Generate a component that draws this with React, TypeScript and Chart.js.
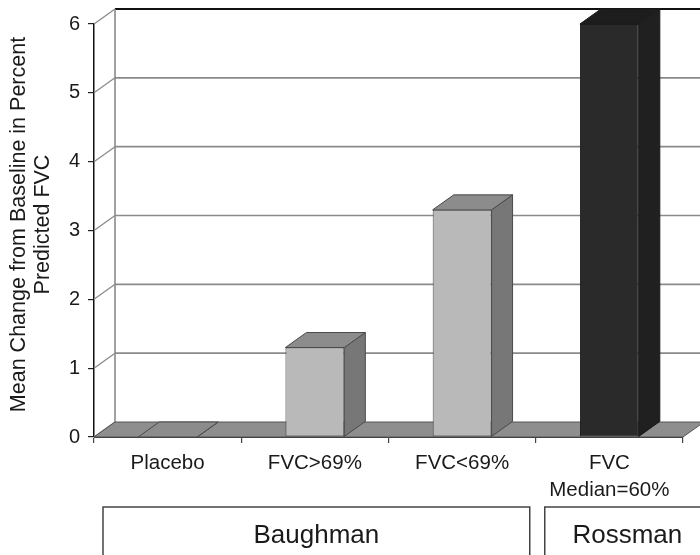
import React, { useEffect, useRef } from "react";
import { Chart, registerables } from "chart.js";

Chart.register(...registerables);

// ---- data ----
const categories: (string | string[])[] = ["Placebo", "FVC>69%", "FVC<69%", ["FVC", "Median=60%"]];
const values: number[] = [0, 1.3, 3.3, 6.0];
const yMin = 0;
const yMax = 6;
const yStep = 1;
const groups: string[] = ["Baughman", "Rossman"];
const groupSpans: number[] = [3, 1];
const yTitle: string[] = ["Mean Change from Baseline in Percent", "Predicted FVC"];

// ---- style ----
const FRONT = ["#b9b9b9", "#b9b9b9", "#b9b9b9", "#2a2a2a"];
const TOP = ["#8c8c8c", "#8c8c8c", "#8c8c8c", "#1d1d1d"];
const SIDE = ["#777777", "#777777", "#777777", "#202020"];
const EDGE = ["#4a4a4a", "#4a4a4a", "#4a4a4a", "#1a1a1a"];
const DX = 21;
const DY = -15;
const FONT = "'Liberation Sans', Arial, sans-serif";
const TEXT = "#1a1a1a";

const threeD = {
  id: "threeD",
  beforeDatasetsDraw(chart: any) {
    const { ctx, chartArea, scales } = chart;
    const y = scales.y;
    const { left, right, bottom } = chartArea;
    const W = chart.width;
    ctx.save();
    for (let v = yMin; v <= yMax; v += yStep) {
      const yf = y.getPixelForValue(v);
      const yb = yf + DY;
      if (v > yMin) {
        ctx.strokeStyle = v === yMax ? "#111" : "#8a8a8a";
        ctx.lineWidth = v === yMax ? 2 : 1.6;
        ctx.beginPath();
        ctx.moveTo(left + DX, yb);
        ctx.lineTo(W + 5, yb);
        ctx.stroke();
      }
      ctx.strokeStyle = "#8a8a8a";
      ctx.lineWidth = 1.3;
      ctx.beginPath();
      ctx.moveTo(left, yf);
      ctx.lineTo(left + DX, yb);
      ctx.stroke();
    }
    ctx.strokeStyle = "#8a8a8a";
    ctx.lineWidth = 1.6;
    ctx.beginPath();
    ctx.moveTo(left + DX, y.getPixelForValue(yMax) + DY);
    ctx.lineTo(left + DX, bottom + DY);
    ctx.stroke();
    // floor
    ctx.fillStyle = "#8e8e8e";
    ctx.strokeStyle = "#555";
    ctx.lineWidth = 1;
    ctx.beginPath();
    ctx.moveTo(left, bottom);
    ctx.lineTo(right, bottom);
    ctx.lineTo(right + DX, bottom + DY);
    ctx.lineTo(left + DX, bottom + DY);
    ctx.closePath();
    ctx.fill();
    ctx.stroke();
    ctx.restore();
  },
  afterDatasetsDraw(chart: any) {
    const { ctx } = chart;
    const meta = chart.getDatasetMeta(0);
    ctx.save();
    meta.data.forEach((bar: any, i: number) => {
      const p = bar.getProps(["x", "y", "base", "width"], true);
      const l = p.x - p.width / 2;
      const r = p.x + p.width / 2;
      const t = Math.min(p.y, p.base);
      const b = p.base;
      ctx.strokeStyle = EDGE[i];
      ctx.lineWidth = 1;
      ctx.fillStyle = SIDE[i];
      ctx.beginPath();
      ctx.moveTo(r, t);
      ctx.lineTo(r + DX, t + DY);
      ctx.lineTo(r + DX, b + DY);
      ctx.lineTo(r, b);
      ctx.closePath();
      ctx.fill();
      ctx.stroke();
      ctx.fillStyle = TOP[i];
      ctx.beginPath();
      ctx.moveTo(l, t);
      ctx.lineTo(r, t);
      ctx.lineTo(r + DX, t + DY);
      ctx.lineTo(l + DX, t + DY);
      ctx.closePath();
      ctx.fill();
      ctx.stroke();
    });
    ctx.restore();
  },
  afterDraw(chart: any) {
    const { ctx, chartArea, scales } = chart;
    const x = scales.x;
    const { top, bottom } = chartArea;
    ctx.save();
    ctx.fillStyle = TEXT;
    ctx.font = `21.5px ${FONT}`;
    ctx.textAlign = "center";
    ctx.textBaseline = "alphabetic";
    const cy = (top + bottom) / 2 - 6;
    yTitle.forEach((line, k) => {
      ctx.save();
      ctx.translate(25 + k * 24, cy);
      ctx.rotate(-Math.PI / 2);
      ctx.fillText(line, 0, 0);
      ctx.restore();
    });
    const step = x.getPixelForValue(1) - x.getPixelForValue(0);
    let start = 0;
    const boxTop = 507;
    groups.forEach((g, k) => {
      const x0 = x.getPixelForValue(start) - step / 2 + 9;
      const last = start + groupSpans[k] - 1;
      let x1 = x.getPixelForValue(last) + step / 2 - 6;
      if (last === categories.length - 1 && k === groups.length - 1) x1 = x.getPixelForValue(last) + step / 2 + 27;
      ctx.strokeStyle = "#444";
      ctx.lineWidth = 1.5;
      ctx.strokeRect(x0, boxTop, x1 - x0, 80);
      ctx.fillStyle = TEXT;
      ctx.font = `26px ${FONT}`;
      ctx.textAlign = "center";
      ctx.textBaseline = "alphabetic";
      ctx.fillText(g, (x0 + x1) / 2, 543);
      start += groupSpans[k];
    });
    ctx.restore();
  },
};

export default function App() {
  const ref = useRef<HTMLCanvasElement | null>(null);
  useEffect(() => {
    if (!ref.current) return;
    const chart = new Chart(ref.current, {
      type: "bar",
      data: {
        labels: categories as any,
        datasets: [
          {
            data: values,
            backgroundColor: FRONT,
            borderColor: EDGE,
            borderWidth: 1,
            borderSkipped: false,
            categoryPercentage: 1,
            barPercentage: 0.4,
          },
        ],
      },
      options: {
        animation: false,
        responsive: false,
        devicePixelRatio: 1,
        layout: { padding: { top: 24, right: 17, left: 0, bottom: 0 } },
        plugins: { legend: { display: false }, tooltip: { enabled: false }, title: { display: false } },
        scales: {
          x: {
            type: "category",
            grid: { offset: true, drawOnChartArea: false, drawTicks: true, tickLength: 6, color: "#444", lineWidth: 1.2 },
            border: { display: true, color: "#333", width: 1 },
            ticks: { color: TEXT, font: { family: FONT, size: 20.5, lineHeight: 1.3 }, padding: 7, maxRotation: 0, autoSkip: false },
            afterFit: (s: any) => { s.height = 555 - 437; },
          },
          y: {
            min: yMin,
            max: yMax,
            grid: { drawOnChartArea: false, drawTicks: true, tickLength: 6, color: "#222", lineWidth: 1.2 },
            border: { display: true, color: "#111", width: 1.5 },
            ticks: { stepSize: yStep, color: TEXT, font: { family: FONT, size: 20 }, padding: 8 },
            afterFit: (s: any) => { s.width = 94; },
          },
        },
      },
      plugins: [threeD],
    } as any);
    return () => chart.destroy();
  }, []);
  return (
    <div style={{ position: "fixed", left: 0, top: 0, width: 700, height: 555, background: "#fff" }}>
      <canvas ref={ref} width={700} height={555} style={{ display: "block" }} />
    </div>
  );
}
